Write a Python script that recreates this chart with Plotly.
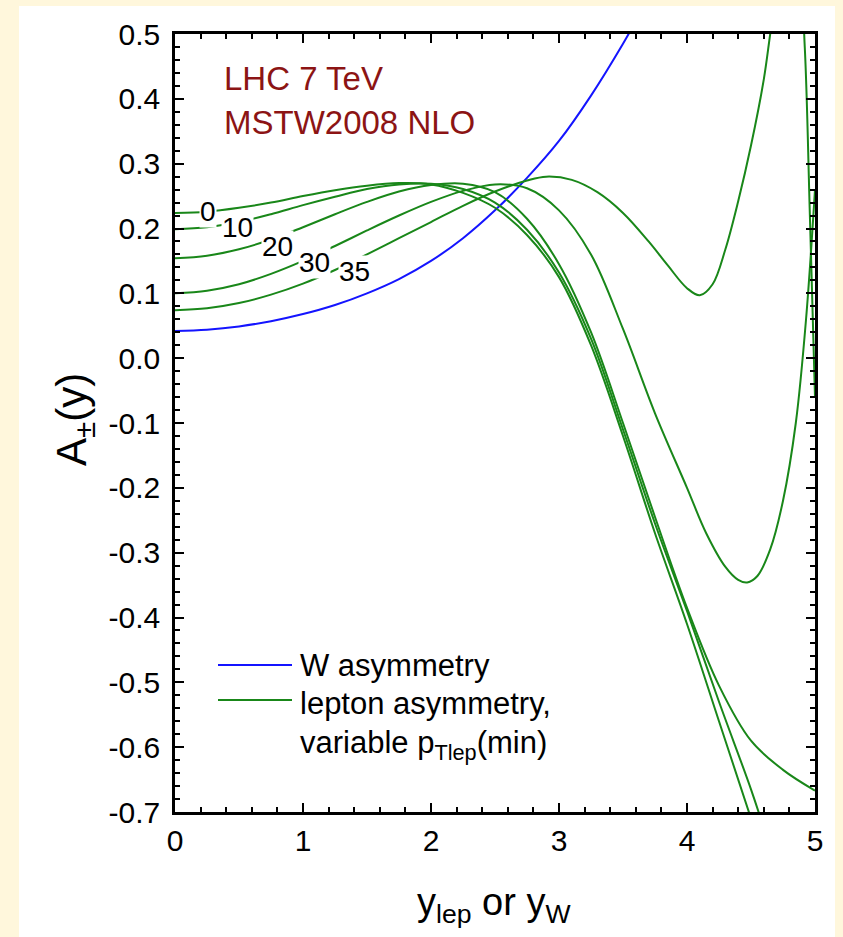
import plotly.graph_objects as go

# ---- data ----
x_w = [0, 0.25, 0.5, 0.75, 1.0, 1.25, 1.5, 1.75, 2.0, 2.25, 2.5, 2.75, 3.0, 3.25, 3.5, 3.6]
a_w = [0.042, 0.044, 0.049, 0.057, 0.068, 0.082, 0.100, 0.122, 0.150, 0.185, 0.228, 0.278, 0.335, 0.405, 0.485, 0.52]

x_pt0 = [0, 0.25, 0.5, 0.75, 1.0, 1.25, 1.5, 1.75, 2.0, 2.25, 2.5, 2.75, 3.0, 3.25, 3.5, 3.75, 4.0, 4.25, 4.5, 4.6]
a_pt0 = [0.224, 0.226, 0.232, 0.240, 0.250, 0.259, 0.266, 0.270, 0.268, 0.255, 0.232, 0.19, 0.125, 0.02, -0.12, -0.27, -0.41, -0.56, -0.71, -0.77]

x_pt10 = [0, 0.25, 0.5, 0.75, 1.0, 1.25, 1.5, 1.75, 2.0, 2.25, 2.5, 2.75, 3.0, 3.25, 3.5, 3.75, 4.0, 4.25, 4.5, 4.6]
a_pt10 = [0.199, 0.202, 0.210, 0.222, 0.236, 0.249, 0.261, 0.268, 0.269, 0.261, 0.240, 0.198, 0.132, 0.03, -0.11, -0.255, -0.39, -0.53, -0.665, -0.725]

x_pt20 = [0, 0.25, 0.5, 0.75, 1.0, 1.25, 1.5, 1.75, 2.0, 2.25, 2.5, 2.75, 3.0, 3.25, 3.5, 3.75, 4.0, 4.25, 4.5, 4.75, 5.0]
a_pt20 = [0.154, 0.158, 0.168, 0.183, 0.202, 0.222, 0.241, 0.257, 0.267, 0.269, 0.256, 0.215, 0.145, 0.04, -0.10, -0.245, -0.385, -0.505, -0.59, -0.635, -0.667]

x_pt30 = [0, 0.25, 0.5, 0.75, 1.0, 1.25, 1.5, 1.75, 2.0, 2.25, 2.5, 2.75, 3.0, 3.25, 3.5, 3.75, 4.0, 4.15, 4.3, 4.4, 4.47, 4.55, 4.65, 4.75, 4.85, 4.93, 5.0]
a_pt30 = [0.100, 0.104, 0.114, 0.130, 0.150, 0.173, 0.197, 0.220, 0.241, 0.258, 0.268, 0.262, 0.228, 0.16, 0.045, -0.085, -0.20, -0.27, -0.322, -0.342, -0.346, -0.336, -0.295, -0.22, -0.10, 0.06, 0.26]

x_pt35 = [0, 0.25, 0.5, 0.75, 1.0, 1.25, 1.5, 1.75, 2.0, 2.25, 2.5, 2.75, 2.9, 3.1, 3.3, 3.5, 3.7, 3.85, 4.0, 4.1, 4.2, 4.3, 4.4, 4.5, 4.6, 4.65, 4.7, 4.8, 4.88, 4.92, 4.96, 5.0]
a_pt35 = [0.074, 0.077, 0.085, 0.098, 0.115, 0.136, 0.160, 0.185, 0.210, 0.235, 0.257, 0.274, 0.280, 0.275, 0.256, 0.224, 0.180, 0.143, 0.108, 0.097, 0.114, 0.168, 0.242, 0.328, 0.43, 0.50, 0.57, 0.63, 0.59, 0.48, 0.22, -0.06]

pt_labels = ["0", "10", "20", "30", "35"]
label_x = [0.26, 0.49, 0.80, 1.09, 1.40]
label_y = [0.226, 0.201, 0.172, 0.148, 0.133]

x_ticks = [0, 1, 2, 3, 4, 5]
y_ticks = [0.5, 0.4, 0.3, 0.2, 0.1, 0.0, -0.1, -0.2, -0.3, -0.4, -0.5, -0.6, -0.7]
y_ticktext = ["0.5", "0.4", "0.3", "0.2", "0.1", "0.0", "-0.1", "-0.2", "-0.3", "-0.4", "-0.5", "-0.6", "-0.7"]

GREEN = "rgb(25,135,25)"
BLUE = "rgb(20,20,255)"
DARKRED = "rgb(140,20,20)"
CREAM = "rgb(255,247,220)"
FONT = "Liberation Sans, Arial, Helvetica, sans-serif"

fig = go.Figure()
fig.add_trace(go.Scatter(x=x_w, y=a_w, mode="lines", line=dict(color=BLUE, width=2, shape="spline"),
                         name="W asymmetry", showlegend=False))
for xs, ys in [(x_pt0, a_pt0), (x_pt10, a_pt10), (x_pt20, a_pt20), (x_pt30, a_pt30), (x_pt35, a_pt35)]:
    fig.add_trace(go.Scatter(x=xs, y=ys, mode="lines", line=dict(color=GREEN, width=2, shape="spline"),
                             showlegend=False))

# plot geometry in pixels
W, H = 843, 937
L, R, T, B = 175, 815, 34, 812
pw, ph = R - L, B - T

def px(xp):
    return (xp - L) / pw

def py(yp):
    return (B - yp) / ph

annotations = []
for t, lx, ly in zip(pt_labels, label_x, label_y):
    annotations.append(dict(x=lx, y=ly, xref="x", yref="y", text=t, showarrow=False,
                            font=dict(family=FONT, size=28, color="black"),
                            bgcolor="white", borderpad=0, xanchor="center", yanchor="middle"))

annotations += [
    dict(x=px(222), y=py(78), xref="paper", yref="paper", text="LHC 7 TeV", showarrow=False,
         font=dict(family=FONT, size=33, color=DARKRED), xanchor="left", yanchor="middle"),
    dict(x=px(222), y=py(122), xref="paper", yref="paper", text="MSTW2008 NLO", showarrow=False,
         font=dict(family=FONT, size=33, color=DARKRED), xanchor="left", yanchor="middle"),
    dict(x=px(298), y=py(665), xref="paper", yref="paper", text="W asymmetry", showarrow=False,
         font=dict(family=FONT, size=31, color="black"), xanchor="left", yanchor="middle"),
    dict(x=px(298), y=py(703), xref="paper", yref="paper", text="lepton asymmetry,", showarrow=False,
         font=dict(family=FONT, size=31, color="black"), xanchor="left", yanchor="middle"),
    dict(x=px(298), y=py(745), xref="paper", yref="paper", text="variable p<sub>Tlep</sub>(min)", showarrow=False,
         font=dict(family=FONT, size=31, color="black"), xanchor="left", yanchor="middle"),
    dict(x=px(74), y=py(420), xref="paper", yref="paper", text="A<sub>±</sub>(y)", showarrow=False,
         textangle=-90, font=dict(family=FONT, size=42, color="black"), xanchor="center", yanchor="middle"),
    dict(x=px(494), y=py(905), xref="paper", yref="paper", text="y<sub>lep</sub> or y<sub>W</sub>", showarrow=False,
         font=dict(family=FONT, size=38, color="black"), xanchor="center", yanchor="middle"),
]

shapes = [
    dict(type="rect", xref="paper", yref="paper", x0=px(19), x1=px(835), y0=py(937), y1=py(6),
         fillcolor="white", line=dict(width=0), layer="below"),
    dict(type="line", xref="paper", yref="paper", x0=px(218), x1=px(292), y0=py(665), y1=py(665),
         line=dict(color=BLUE, width=2)),
    dict(type="line", xref="paper", yref="paper", x0=px(218), x1=px(292), y0=py(700), y1=py(700),
         line=dict(color=GREEN, width=2)),
]

axis_common = dict(showgrid=False, zeroline=False, showline=True, linecolor="black", linewidth=2.5,
                   mirror="ticks", ticks="inside", ticklen=9, tickwidth=2, tickcolor="black",
                   tickfont=dict(family=FONT, size=30, color="black"))

fig.update_xaxes(range=[0, 5], tickvals=x_ticks, ticktext=[str(v) for v in x_ticks],
                 minor=dict(dtick=0.2, tick0=0, ticks="inside", ticklen=5, tickwidth=2, tickcolor="black"),
                 **axis_common)
fig.update_yaxes(range=[-0.7, 0.5], tickvals=y_ticks, ticktext=y_ticktext, ticklabelstandoff=6,
                 minor=dict(dtick=0.02, tick0=0, ticks="inside", ticklen=5, tickwidth=2, tickcolor="black"),
                 **axis_common)

fig.update_layout(width=W, height=H, margin=dict(l=L, r=W - R, t=T, b=H - B),
                  paper_bgcolor=CREAM, plot_bgcolor="white",
                  annotations=annotations, shapes=shapes, showlegend=False)

fig.write_html("out.html")
